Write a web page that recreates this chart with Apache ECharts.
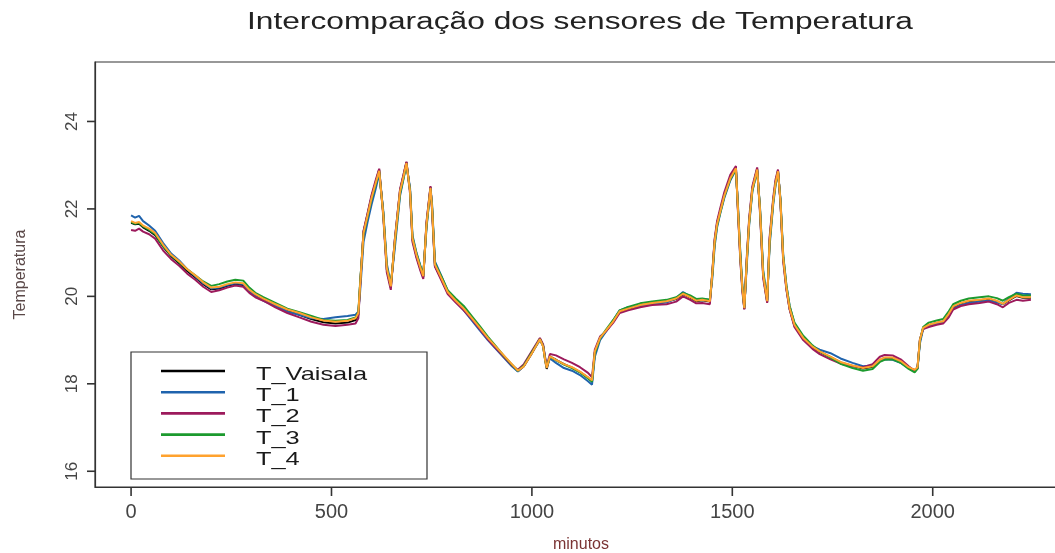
<!DOCTYPE html>
<html>
<head>
<meta charset="utf-8">
<title>Intercomparação dos sensores de Temperatura</title>
<script src="https://cdn.jsdelivr.net/npm/echarts@6/dist/echarts.min.js"></script>
<style>
  html, body { margin: 0; padding: 0; background: #ffffff; }
  #chart { width: 1055px; height: 553px; }
</style>
</head>
<body>
<div id="chart"></div>
<script>
// Time axis (minutes since start), shared by every sensor
const minutes = [
  0, 10, 20, 30, 45, 60, 80, 100, 120, 140,
  160, 180, 200, 220, 240, 260, 280, 295, 310, 330,
  360, 390, 420, 450, 480, 510, 540, 560, 567, 571,
  580, 590, 600, 610, 619, 629, 638, 648, 658, 671,
  680, 687, 696, 702, 712, 722, 729, 737, 747, 751,
  758, 775, 790, 810, 830, 850, 870, 890, 910, 930,
  950, 965, 980, 1000, 1020, 1028, 1033, 1037, 1045, 1060,
  1080, 1100, 1120, 1140, 1150, 1157, 1170, 1185, 1203, 1219,
  1240, 1270, 1300, 1336, 1360, 1377, 1395, 1410, 1425, 1444,
  1450, 1456, 1462, 1470, 1480, 1495, 1509, 1514, 1520, 1525,
  1530, 1536, 1542, 1550, 1562, 1569, 1577, 1587, 1593, 1602,
  1608, 1614, 1620, 1627, 1635, 1643, 1655, 1677, 1700, 1718,
  1745, 1770, 1800, 1826, 1850, 1868, 1880, 1900, 1920, 1940,
  1955, 1962, 1968, 1976, 1990, 2010, 2026, 2040, 2051, 2070,
  2090, 2117, 2140, 2160, 2175, 2190, 2209, 2225, 2245
];

// Reference sensor
const tVaisala = [
  21.68, 21.65, 21.66, 21.58, 21.50, 21.40, 21.14, 20.92, 20.76, 20.58,
  20.44, 20.28, 20.16, 20.18, 20.24, 20.28, 20.26, 20.12, 20.02, 19.92,
  19.79, 19.67, 19.58, 19.48, 19.41, 19.38, 19.40, 19.46, 19.58, 20.22,
  21.48, 21.88, 22.28, 22.60, 22.90, 21.92, 20.62, 20.20, 21.28, 22.42,
  22.78, 23.07, 22.42, 21.30, 20.92, 20.62, 20.44, 21.66, 22.50, 22.00,
  20.70, 20.38, 20.08, 19.88, 19.70, 19.48, 19.26, 19.03, 18.83, 18.63,
  18.43, 18.29, 18.40, 18.70, 19.03, 18.86, 18.54, 18.34, 18.62, 18.55,
  18.45, 18.37, 18.27, 18.14, 18.06, 18.72, 19.04, 19.21, 19.42, 19.65,
  19.71, 19.79, 19.84, 19.88, 19.94, 20.05, 19.97, 19.89, 19.91, 19.88,
  20.52, 21.28, 21.67, 21.96, 22.32, 22.72, 22.95, 22.00, 20.88, 20.18,
  19.71, 20.82, 21.72, 22.47, 22.92, 21.98, 20.48, 19.87, 21.28, 22.19,
  22.62, 22.88, 22.18, 20.86, 20.18, 19.71, 19.33, 19.03, 18.84, 18.73,
  18.61, 18.49, 18.41, 18.35, 18.39, 18.54, 18.59, 18.59, 18.51, 18.37,
  18.31, 18.37, 18.99, 19.27, 19.34, 19.39, 19.42, 19.59, 19.76, 19.84,
  19.89, 19.91, 19.94, 19.89, 19.82, 19.91, 20.01, 19.97, 19.97
];

const t1 = [
  21.85, 21.80, 21.84, 21.72, 21.62, 21.50, 21.22, 20.98, 20.82, 20.62,
  20.46, 20.30, 20.18, 20.20, 20.26, 20.30, 20.28, 20.12, 20.00, 19.90,
  19.78, 19.65, 19.58, 19.50, 19.48, 19.52, 19.55, 19.58, 19.65, 20.05,
  21.25, 21.70, 22.10, 22.45, 22.80, 21.98, 20.75, 20.28, 21.10, 22.30,
  22.70, 23.02, 22.48, 21.40, 21.00, 20.70, 20.50, 21.55, 22.50, 22.10,
  20.80, 20.45, 20.12, 19.88, 19.68, 19.45, 19.22, 19.00, 18.80, 18.60,
  18.40, 18.28, 18.42, 18.72, 19.00, 18.88, 18.60, 18.40, 18.58, 18.48,
  18.36, 18.30, 18.20, 18.06, 17.98, 18.62, 19.00, 19.20, 19.45, 19.68,
  19.75, 19.78, 19.82, 19.86, 19.96, 20.10, 20.00, 19.92, 19.94, 19.92,
  20.40, 21.15, 21.58, 21.90, 22.25, 22.65, 22.90, 22.10, 21.00, 20.25,
  19.75, 20.70, 21.62, 22.40, 22.88, 22.05, 20.60, 19.92, 21.15, 22.10,
  22.55, 22.84, 22.25, 20.95, 20.25, 19.78, 19.38, 19.02, 18.86, 18.78,
  18.70, 18.58, 18.48, 18.40, 18.42, 18.52, 18.56, 18.55, 18.48, 18.36,
  18.30, 18.35, 18.92, 19.25, 19.34, 19.38, 19.40, 19.55, 19.72, 19.80,
  19.85, 19.88, 19.90, 19.86, 19.82, 19.95, 20.08, 20.06, 20.05
];

const t2 = [
  21.52, 21.50, 21.55, 21.48, 21.42, 21.32, 21.05, 20.85, 20.70, 20.52,
  20.38, 20.22, 20.10, 20.14, 20.20, 20.25, 20.22, 20.08, 19.98, 19.90,
  19.75, 19.62, 19.52, 19.42, 19.35, 19.32, 19.35, 19.38, 19.50, 20.15,
  21.50, 21.90, 22.32, 22.65, 22.92, 21.85, 20.55, 20.15, 21.30, 22.45,
  22.80, 23.08, 22.35, 21.25, 20.88, 20.58, 20.40, 21.70, 22.52, 21.95,
  20.68, 20.35, 20.05, 19.86, 19.68, 19.48, 19.25, 19.02, 18.82, 18.62,
  18.42, 18.32, 18.45, 18.75, 19.05, 18.90, 18.60, 18.42, 18.68, 18.65,
  18.56, 18.48, 18.38, 18.25, 18.15, 18.78, 19.08, 19.20, 19.40, 19.62,
  19.68, 19.75, 19.80, 19.82, 19.88, 20.00, 19.92, 19.84, 19.85, 19.82,
  20.55, 21.32, 21.72, 22.02, 22.38, 22.78, 22.98, 21.95, 20.82, 20.12,
  19.70, 20.88, 21.78, 22.52, 22.95, 21.92, 20.42, 19.85, 21.35, 22.25,
  22.68, 22.90, 22.15, 20.80, 20.15, 19.70, 19.30, 19.00, 18.80, 18.68,
  18.56, 18.46, 18.40, 18.38, 18.45, 18.62, 18.66, 18.65, 18.56, 18.40,
  18.30, 18.35, 19.02, 19.25, 19.30, 19.35, 19.38, 19.52, 19.70, 19.78,
  19.82, 19.85, 19.88, 19.82, 19.75, 19.85, 19.92, 19.90, 19.92
];

const t3 = [
  21.70, 21.66, 21.68, 21.60, 21.52, 21.42, 21.15, 20.94, 20.78, 20.62,
  20.48, 20.34, 20.24, 20.28, 20.34, 20.38, 20.36, 20.20, 20.08, 19.98,
  19.85, 19.72, 19.64, 19.55, 19.46, 19.44, 19.46, 19.52, 19.64, 20.25,
  21.42, 21.82, 22.22, 22.55, 22.85, 21.92, 20.68, 20.25, 21.22, 22.35,
  22.72, 23.02, 22.42, 21.36, 20.98, 20.68, 20.48, 21.60, 22.45, 22.05,
  20.76, 20.44, 20.14, 19.95, 19.78, 19.55, 19.32, 19.08, 18.86, 18.64,
  18.44, 18.30, 18.42, 18.72, 19.02, 18.86, 18.56, 18.38, 18.62, 18.54,
  18.44, 18.36, 18.26, 18.12, 18.05, 18.70, 19.04, 19.24, 19.46, 19.68,
  19.76, 19.84, 19.88, 19.92, 19.98, 20.08, 20.02, 19.94, 19.95, 19.92,
  20.48, 21.22, 21.62, 21.92, 22.28, 22.68, 22.90, 22.05, 20.95, 20.22,
  19.75, 20.78, 21.68, 22.42, 22.88, 22.02, 20.55, 19.92, 21.22, 22.15,
  22.58, 22.84, 22.22, 20.92, 20.24, 19.78, 19.40, 19.10, 18.88, 18.74,
  18.60, 18.46, 18.36, 18.30, 18.34, 18.50, 18.55, 18.56, 18.48, 18.34,
  18.26, 18.34, 18.98, 19.30, 19.40, 19.45, 19.48, 19.66, 19.82, 19.90,
  19.95, 19.98, 20.00, 19.96, 19.90, 19.98, 20.06, 20.02, 20.02
];

const t4 = [
  21.72, 21.68, 21.70, 21.62, 21.55, 21.45, 21.18, 20.95, 20.80, 20.62,
  20.48, 20.32, 20.20, 20.22, 20.28, 20.32, 20.30, 20.15, 20.05, 19.95,
  19.82, 19.70, 19.62, 19.52, 19.45, 19.42, 19.44, 19.50, 19.62, 20.20,
  21.45, 21.85, 22.25, 22.58, 22.87, 21.90, 20.65, 20.23, 21.26, 22.40,
  22.75, 23.05, 22.40, 21.33, 20.95, 20.65, 20.46, 21.64, 22.48, 22.02,
  20.73, 20.40, 20.10, 19.90, 19.72, 19.50, 19.28, 19.05, 18.85, 18.65,
  18.45, 18.30, 18.40, 18.70, 19.02, 18.85, 18.55, 18.36, 18.63, 18.55,
  18.45, 18.38, 18.28, 18.15, 18.08, 18.74, 19.05, 19.22, 19.43, 19.66,
  19.72, 19.80, 19.85, 19.89, 19.95, 20.06, 19.98, 19.90, 19.92, 19.89,
  20.50, 21.26, 21.65, 21.94, 22.30, 22.70, 22.93, 22.02, 20.90, 20.20,
  19.73, 20.80, 21.70, 22.45, 22.90, 22.00, 20.50, 19.89, 21.26, 22.17,
  22.60, 22.86, 22.20, 20.88, 20.20, 19.73, 19.35, 19.05, 18.85, 18.74,
  18.62, 18.50, 18.42, 18.36, 18.40, 18.55, 18.60, 18.60, 18.52, 18.38,
  18.32, 18.38, 19.00, 19.28, 19.35, 19.40, 19.43, 19.60, 19.77, 19.85,
  19.90, 19.92, 19.95, 19.90, 19.83, 19.92, 20.02, 19.98, 19.98
];

const seriesNames = ['T_Vaisala', 'T_1', 'T_2', 'T_3', 'T_4'];
const seriesValues = [tVaisala, t1, t2, t3, t4];
const seriesColors = ['#000000', '#1f63ad', '#9c1a5c', '#1c9a2e', '#ffa22e'];

const xTicks = [0, 500, 1000, 1500, 2000];
const yTicks = [16, 18, 20, 22, 24];

const titleText = 'Intercomparação dos sensores de Temperatura';

const X_MIN = -90, X_MAX = 2335;
const Y_MIN = 15.64, Y_MAX = 25.36;

const chart = echarts.init(document.getElementById('chart'), null, { renderer: 'canvas' });

// Horizontal text in this figure is drawn wide; measure it so it can be stretched to its width
function textWidth(str, font) {
  const ctx = document.createElement('canvas').getContext('2d');
  ctx.font = font;
  return ctx.measureText(str).width;
}
const baseFont = 'Liberation Sans';
const titleSize = 23.5;
const titleScale = 666 / textWidth(titleText, titleSize + 'px "' + baseFont + '"');
const legendSize = 18.5;
const legendScale = 111 / textWidth('T_Vaisala', legendSize + 'px "' + baseFont + '"');

const axisInk = '#333333';

const lineSeries = seriesNames.map((name, k) => ({
  name: name,
  type: 'line',
  data: minutes.map((m, i) => [m, seriesValues[k][i]]),
  showSymbol: false,
  symbol: 'none',
  lineStyle: { width: 2, color: seriesColors[k] },
  itemStyle: { color: seriesColors[k] },
  z: 2 + k
}));

// Outward tick marks on the bottom and left sides of the box, positioned by the axes' scales
const xTickSeries = {
  type: 'custom',
  silent: true,
  clip: false,
  z: 10,
  data: xTicks.map(v => [v, Y_MIN]),
  renderItem: (params, api) => {
    const p = api.coord([api.value(0), api.value(1)]);
    return {
      type: 'line',
      shape: { x1: p[0], y1: p[1], x2: p[0], y2: p[1] + 9 },
      style: { stroke: axisInk, lineWidth: 1.6 }
    };
  }
};
const yTickSeries = {
  type: 'custom',
  silent: true,
  clip: false,
  z: 10,
  data: yTicks.map(v => [X_MIN, v]),
  renderItem: (params, api) => {
    const p = api.coord([api.value(0), api.value(1)]);
    return {
      type: 'line',
      shape: { x1: p[0] - 8, y1: p[1], x2: p[0], y2: p[1] },
      style: { stroke: axisInk, lineWidth: 1.6 }
    };
  }
};

// Legend box: one line sample and one stretched label per sensor
const legendRowTop = 371;
const legendRowStep = 21.2;
const legendItems = [{
  type: 'rect',
  shape: { x: 131, y: 352, width: 296, height: 127 },
  style: { fill: '#ffffff', stroke: axisInk, lineWidth: 1.2 },
  z: 5
}];
seriesNames.forEach((name, k) => {
  const y = legendRowTop + legendRowStep * k;
  legendItems.push({
    type: 'line',
    shape: { x1: 161, y1: y, x2: 225, y2: y },
    style: { stroke: seriesColors[k], lineWidth: 2.6 },
    z: 6
  });
  legendItems.push({
    type: 'text',
    x: 256, y: y + 4,
    scaleX: legendScale,
    style: {
      text: name, fontFamily: baseFont, fontSize: legendSize,
      fill: '#1a1a1a', align: 'left', verticalAlign: 'middle'
    },
    z: 6
  });
});

chart.setOption({
  animation: false,
  backgroundColor: '#ffffff',
  textStyle: { fontFamily: 'Liberation Sans, Arial, sans-serif' },
  grid: {
    left: 95, top: 62, right: -12, bottom: 66,
    outerBoundsMode: 'none',
    containLabel: false,
    show: true, borderColor: axisInk, borderWidth: 1.2,
    backgroundColor: 'transparent'
  },
  xAxis: {
    type: 'value',
    position: 'bottom',
    min: X_MIN, max: X_MAX,
    axisLine: { show: true, onZero: false, lineStyle: { color: axisInk, width: 1.2 } },
    splitLine: { show: false },
    axisTick: { show: false },
    axisLabel: {
      customValues: xTicks, margin: 15, fontSize: 20, color: '#444444',
      formatter: v => String(v)
    },
    name: 'minutos',
    nameLocation: 'middle',
    nameGap: 50,
    nameTextStyle: { fontSize: 16, color: '#7a3434' }
  },
  yAxis: {
    type: 'value',
    position: 'left',
    min: Y_MIN, max: Y_MAX,
    axisLine: { show: true, onZero: false, lineStyle: { color: axisInk, width: 1.2 } },
    splitLine: { show: false },
    axisTick: { show: false },
    axisLabel: {
      customValues: yTicks, rotate: 90, margin: 14, fontSize: 17, color: '#444444',
      align: 'center', verticalAlign: 'bottom'
    },
    name: 'Temperatura',
    nameLocation: 'middle',
    nameGap: 66,
    nameTextStyle: { fontSize: 16, color: '#5a4848' }
  },
  graphic: [{
    type: 'text',
    x: 580, y: 23,
    scaleX: titleScale,
    style: {
      text: titleText, fontFamily: baseFont, fontSize: titleSize,
      fill: '#222222', align: 'center', verticalAlign: 'middle'
    }
  }].concat(legendItems),
  series: lineSeries.concat([xTickSeries, yTickSeries])
});
</script>
</body>
</html>
